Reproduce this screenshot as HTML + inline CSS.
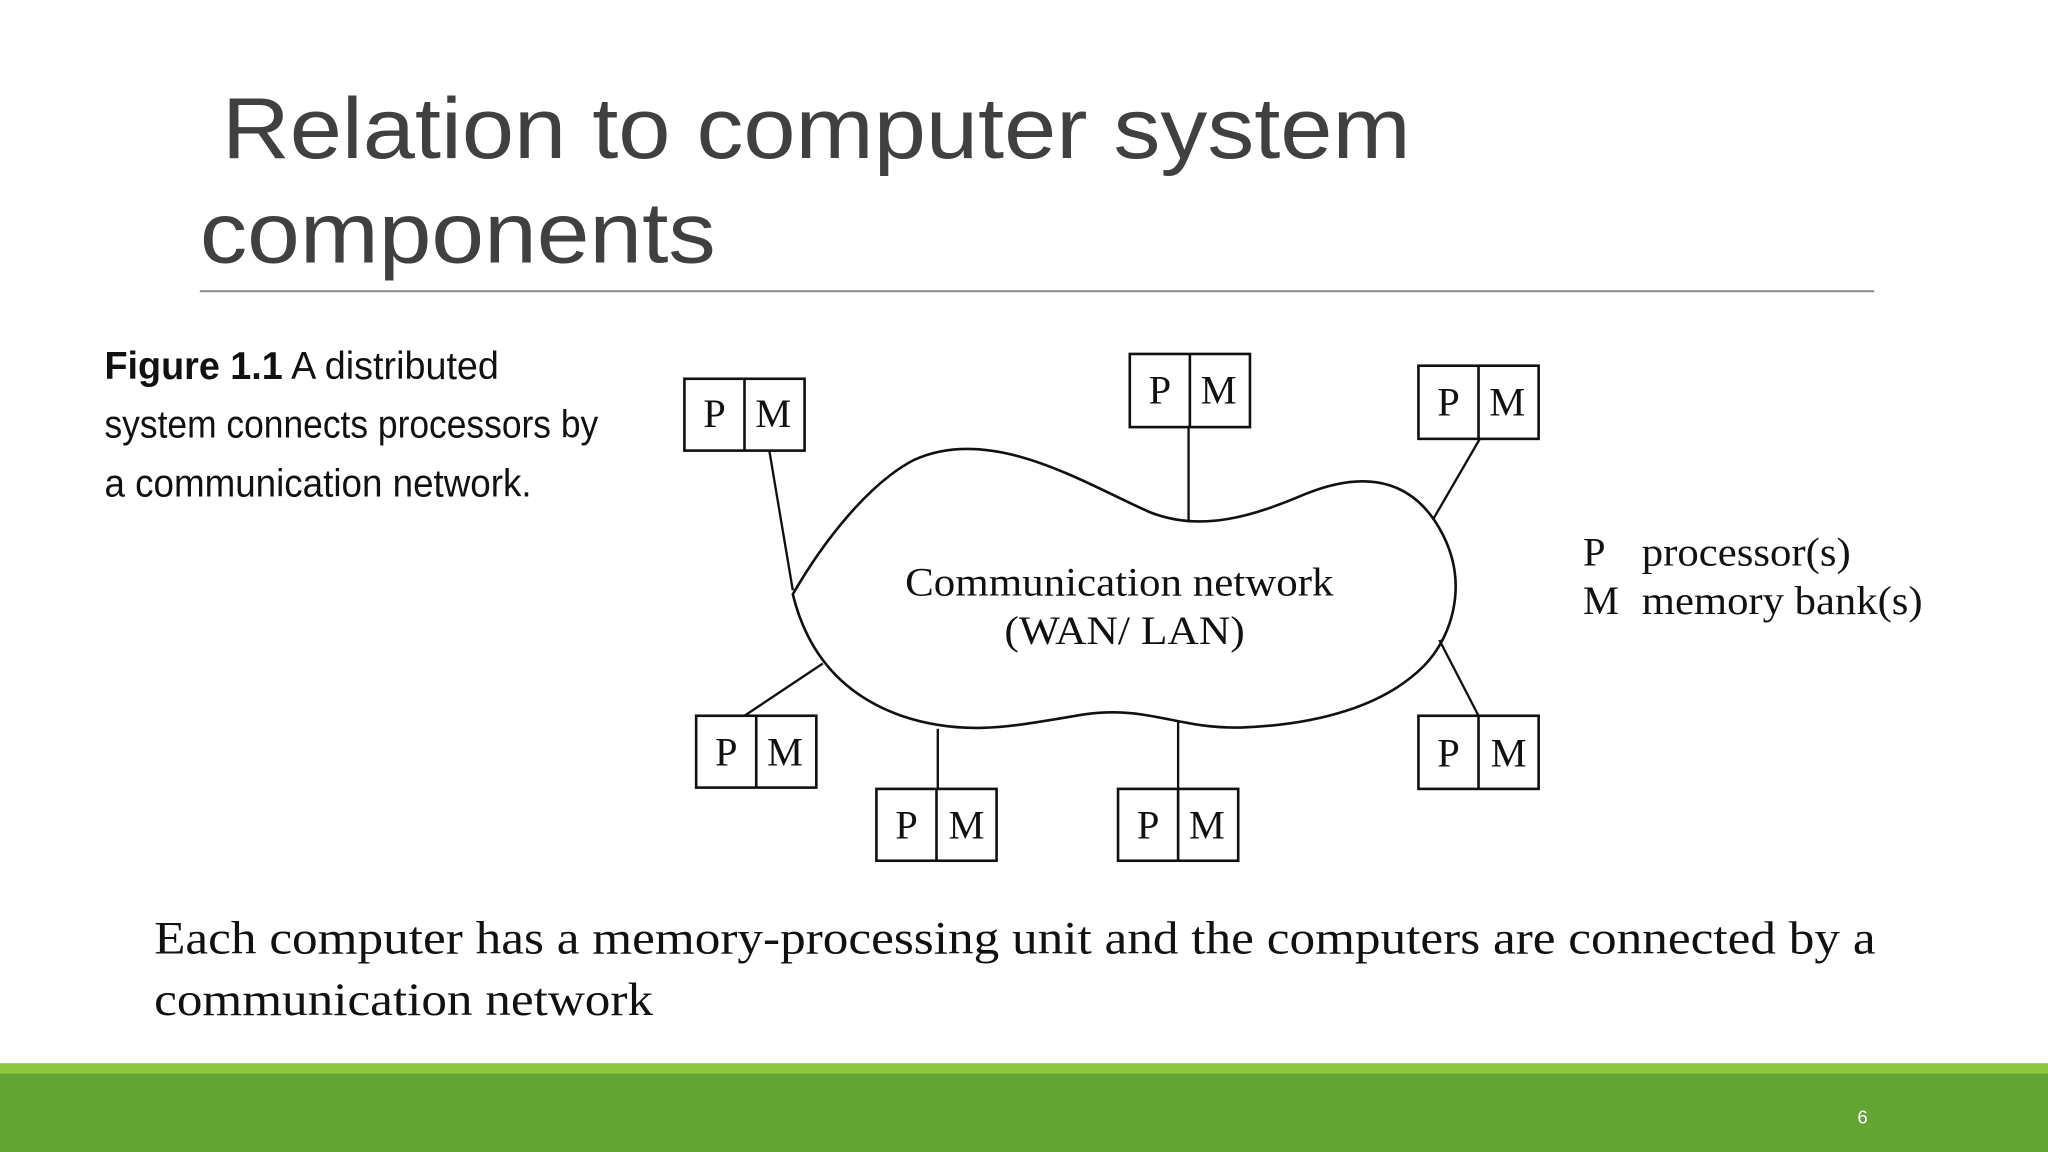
<!DOCTYPE html>
<html><head><meta charset="utf-8"><style>
html,body{margin:0;padding:0;background:#fff;}
svg{display:block;}
</style></head><body>
<svg width="2048" height="1152" viewBox="0 0 1568 882" xmlns="http://www.w3.org/2000/svg">
<rect width="1568" height="882" fill="#fff"/>
<g font-family="Liberation Sans, sans-serif" fill="#404040" font-size="66">
<text x="170" y="121" textLength="910" lengthAdjust="spacingAndGlyphs">Relation to computer system</text>
<text x="153" y="201" textLength="395" lengthAdjust="spacingAndGlyphs">components</text>
</g>
<line x1="153" y1="223" x2="1435" y2="223" stroke="#8a8a8a" stroke-width="1.5"/>
<g font-family="Liberation Sans, sans-serif" fill="#111" font-size="30">
<text x="80" y="290" textLength="302" lengthAdjust="spacingAndGlyphs"><tspan font-weight="bold">Figure 1.1</tspan>  A distributed</text>
<text x="80" y="335" textLength="378" lengthAdjust="spacingAndGlyphs">system connects processors by</text>
<text x="80" y="380" textLength="327" lengthAdjust="spacingAndGlyphs">a communication network.</text>
</g>
<path d="M607,455 C630,415 665,370 700,352 C760,325 830,370 880,392 C920,408 960,395 1000,378 C1050,358 1085,370 1105,410 C1125,450 1110,490 1090,510 C1060,540 1010,555 950,557 C900,558 880,540 830,547 C780,555 740,565 690,548 C645,532 618,500 607,455 Z" fill="none" stroke="#111" stroke-width="2"/>
<g stroke="#111" stroke-width="1.8">
<line x1="589" y1="345" x2="607" y2="452"/>
<line x1="910" y1="327" x2="910" y2="400"/>
<line x1="1133" y1="336" x2="1097" y2="398"/>
<line x1="630" y1="508" x2="570" y2="548"/>
<line x1="718" y1="558" x2="718" y2="604"/>
<line x1="902" y1="553" x2="902" y2="604"/>
<line x1="1102" y1="490" x2="1132" y2="548"/>
</g>
<g fill="#fff" stroke="#111" stroke-width="2">
<rect x="524" y="290" width="92" height="55"/><line x1="570" y1="290" x2="570" y2="345"/>
<rect x="865" y="271" width="92" height="56"/><line x1="911" y1="271" x2="911" y2="327"/>
<rect x="1086" y="280" width="92" height="56"/><line x1="1132" y1="280" x2="1132" y2="336"/>
<rect x="533" y="548" width="92" height="55"/><line x1="579" y1="548" x2="579" y2="603"/>
<rect x="671" y="604" width="92" height="55"/><line x1="717" y1="604" x2="717" y2="659"/>
<rect x="856" y="604" width="92" height="55"/><line x1="902" y1="604" x2="902" y2="659"/>
<rect x="1086" y="548" width="92" height="56"/><line x1="1132" y1="548" x2="1132" y2="604"/>
</g>
<g font-family="Liberation Serif, serif" fill="#111" font-size="31" text-anchor="middle">
<text x="547" y="327">P</text><text x="592" y="327">M</text>
<text x="888" y="309">P</text><text x="933" y="309">M</text>
<text x="1109" y="318">P</text><text x="1154" y="318">M</text>
<text x="556" y="586">P</text><text x="601" y="586">M</text>
<text x="694" y="642">P</text><text x="740" y="642">M</text>
<text x="879" y="642">P</text><text x="924" y="642">M</text>
<text x="1109" y="587">P</text><text x="1155" y="587">M</text>
</g>
<g font-family="Liberation Serif, serif" fill="#111" font-size="31">
<text x="693" y="456" textLength="328" lengthAdjust="spacingAndGlyphs">Communication network</text>
<text x="769" y="493" textLength="184" lengthAdjust="spacingAndGlyphs">(WAN/ LAN)</text>
<text x="1212" y="433">P</text><text x="1257" y="433" textLength="160" lengthAdjust="spacingAndGlyphs">processor(s)</text>
<text x="1212" y="470">M</text><text x="1257" y="470" textLength="215" lengthAdjust="spacingAndGlyphs">memory bank(s)</text>
</g>
<g font-family="Liberation Serif, serif" fill="#111" font-size="36">
<text x="118" y="730" textLength="1318" lengthAdjust="spacingAndGlyphs">Each computer has a memory-processing unit and the computers are connected by a</text>
<text x="118" y="777" textLength="382" lengthAdjust="spacingAndGlyphs">communication network</text>
</g>
<rect x="0" y="814" width="1568" height="9" fill="#8dc63f"/>
<rect x="0" y="822" width="1568" height="60" fill="#62a535"/>
<text x="1426" y="860" font-family="Liberation Sans, sans-serif" font-size="14" fill="#fff" text-anchor="middle">6</text>
</svg>
</body></html>
